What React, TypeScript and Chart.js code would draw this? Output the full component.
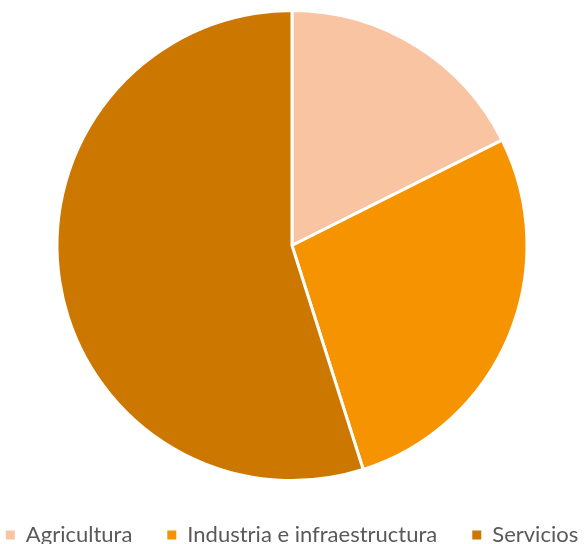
import React, { useEffect, useRef } from "react";
import { Chart, registerables } from "chart.js";

Chart.register(...registerables);

const categories = ["Agricultura", "Industria e infraestructura", "Servicios"];
const shares = [17.6, 27.5, 54.9];
const sliceColors = ["#F8C4A2", "#F59300", "#CC7700"];

export default function App() {
  const ref = useRef<HTMLCanvasElement | null>(null);

  useEffect(() => {
    document.body.style.margin = "0";
    const canvas = ref.current;
    if (!canvas) return;
    const chart = new Chart(canvas, {
      type: "pie",
      data: {
        labels: categories,
        datasets: [
          {
            data: shares,
            backgroundColor: sliceColors,
            borderColor: "#FFFFFF",
            borderWidth: 3,
            radius: 235,
          },
        ],
      },
      options: {
        animation: false,
        responsive: false,
        maintainAspectRatio: false,
        layout: { padding: 0 },
        plugins: {
          tooltip: { enabled: false },
          legend: {
            position: "bottom",
            labels: {
              boxWidth: 9,
              boxHeight: 9,
              padding: 35,
              color: "#595959",
              font: { family: "Lato", size: 22 },
              generateLabels: (c: any) =>
                (Chart as any).overrides.pie.plugins.legend.labels
                  .generateLabels(c)
                  .map((l: any) => ({ ...l, lineWidth: 0, strokeStyle: "rgba(0,0,0,0)" })),
            },
          },
        },
      },
    });
    return () => chart.destroy();
  }, []);

  return (
    <div style={{ position: "relative", width: 584, height: 544, overflow: "hidden" }}>
      <canvas
        ref={ref}
        width={680}
        height={554}
        style={{ position: "absolute", left: -48, top: 2, width: 680, height: 554 }}
      />
    </div>
  );
}
